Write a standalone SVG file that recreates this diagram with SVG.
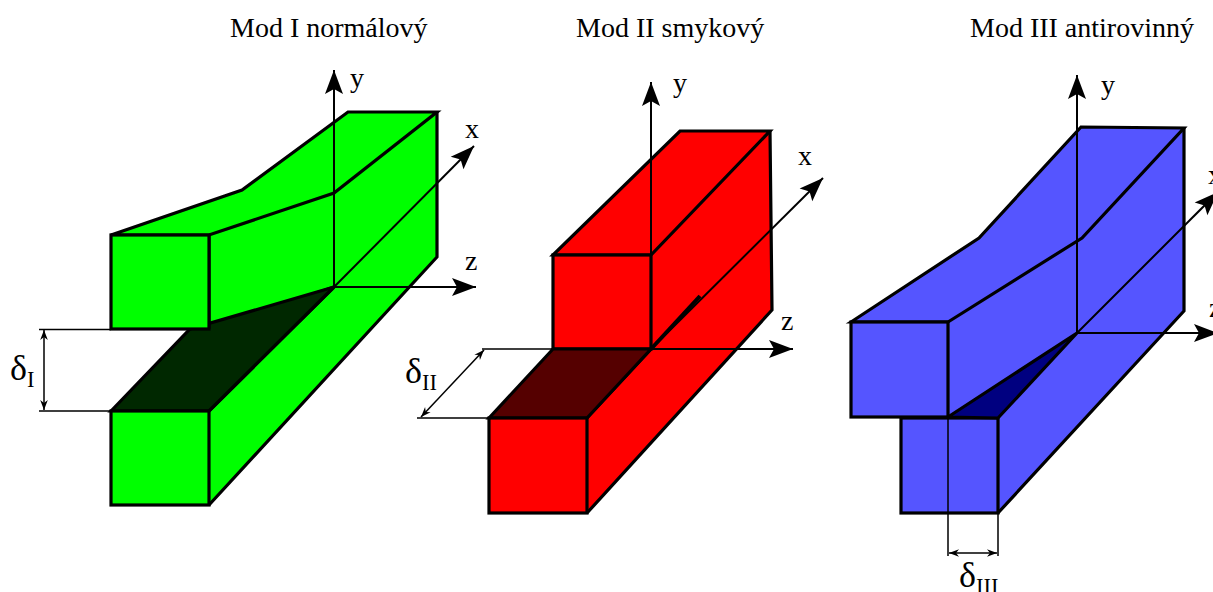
<svg xmlns="http://www.w3.org/2000/svg" width="1213" height="592" viewBox="0 0 1213 592">
<style>
text{font-family:"Liberation Serif","Times New Roman",serif;fill:#000}
.t{font-size:28px}
.a{font-size:28px}
.d{font-size:36px}
.s{font-size:22.5px}
.f{stroke:#000;stroke-width:3.2;stroke-linejoin:miter}
.e{fill:none;stroke:#000;stroke-width:3.2;stroke-linejoin:miter}
.g{fill:#00ff00}.r{fill:#ff0000}.b{fill:#5555ff}
.ax{fill:none;stroke:#000;stroke-width:2;}
.dim{fill:none;stroke:#000;stroke-width:1.5}
.arr{marker-end:url(#big)}
.two{marker-start:url(#smallS);marker-end:url(#small)}
</style>
<defs>
<marker id="big" markerUnits="userSpaceOnUse" markerWidth="30" markerHeight="24" refX="24" refY="10" orient="auto" overflow="visible"><path d="M24,10L0,1L5,10L0,19Z" fill="#000"/></marker>
<marker id="small" markerUnits="userSpaceOnUse" markerWidth="12" markerHeight="10" refX="10" refY="5" orient="auto"><path d="M10,5L0,1.2L3,5L0,8.8Z" fill="#000"/></marker>
<marker id="smallS" markerUnits="userSpaceOnUse" markerWidth="12" markerHeight="10" refX="0" refY="5" orient="auto"><path d="M0,5L10,1.2L7,5L10,8.8Z" fill="#000"/></marker>
</defs>

<text class="t" x="230" y="37">Mod I normálový</text>
<text class="t" x="576" y="37">Mod II smykový</text>
<text class="t" x="970" y="37">Mod III antirovinný</text>

<g id="green-block">
<path class="g" d="M209,235L334,193L437,112V257L209,505V329Z"/>
<path class="e" d="M209,411L334,287L209,329M437,112V257L209,505"/>
<path class="f" fill="#002800" d="M111,411L190,329L334,287L209,411Z"/>
<rect class="f g" x="111" y="411" width="98" height="94"/>
<path class="f g" d="M111,235L242,190L348,112H437L334,193L209,235Z"/>
<path class="e" d="M209,235V329"/>
<rect class="f g" x="111" y="235" width="98" height="94"/>
</g>
<g id="red-block">
<path class="r" d="M651,255L770,131L772,310L587,513V418Z"/>
<path class="e" d="M587,418L651,349M770,131L772,310L587,513"/>
<path class="f r" d="M553,255L680,131H770L651,255Z"/>
<rect class="f r" x="553" y="255" width="98" height="94"/>
<path class="f" fill="#550000" d="M489,418L553,349H651L587,418Z"/>
<rect class="f r" x="489" y="418" width="98" height="95"/>
<path d="M651,349L700,296" stroke="#000" stroke-width="4" fill="none"/>
</g>
<g id="blue-block">
<path class="b" d="M948,322L1082,238L1184,128V311L998,513V418L948,417Z"/>
<path class="e" d="M1184,128V311L998,513"/>
<rect class="f b" x="901" y="418" width="97" height="95"/>
<path class="f b" d="M851,322L979,238L1081,127L1184,128L1082,238L948,322Z"/>
<rect class="f b" x="851" y="322" width="97" height="95"/>
<path class="f" fill="#000080" d="M948,417L1077,333L998,418Z"/>
</g>

<g id="connectors">
<path class="ax arr" d="M334,287V70"/>
<path class="ax arr" d="M334,287H476"/>
<path class="ax arr" d="M334,287L474,146"/>
<path class="ax arr" d="M651,349V82"/>
<path class="ax arr" d="M651,349H793"/>
<path class="ax arr" d="M651,349L823,178"/>
<path class="ax arr" d="M1077,333V75"/>
<path class="ax arr" d="M1077,333H1218"/>
<path class="ax arr" d="M1077,333L1218,192"/>
<path class="dim" d="M39,329.5H111M39,411H111"/>
<path class="dim two" d="M44,330V410"/>
<path class="dim" d="M482,349H553M417,418H489"/>
<path class="dim two" d="M421,417L484,350"/>
<path class="dim" d="M948,417V556M998,513V556"/>
<path class="dim two" d="M949,553H997"/>
</g>

<text class="a" x="350" y="87">y</text>
<text class="a" x="465" y="138">x</text>
<text class="a" x="465" y="270">z</text>
<text class="a" x="673" y="92">y</text>
<text class="a" x="798" y="165">x</text>
<text class="a" x="781" y="330">z</text>
<text class="a" x="1101" y="94">y</text>
<text class="a" x="1208" y="184">x</text>
<text class="a" x="1209" y="317">z</text>
<text class="d" x="10" y="380">δ<tspan class="s" dy="7">I</tspan></text>
<text class="d" x="405" y="383">δ<tspan class="s" dy="7">II</tspan></text>
<text class="d" x="959" y="587">δ<tspan class="s" dy="7">III</tspan></text>
</svg>
